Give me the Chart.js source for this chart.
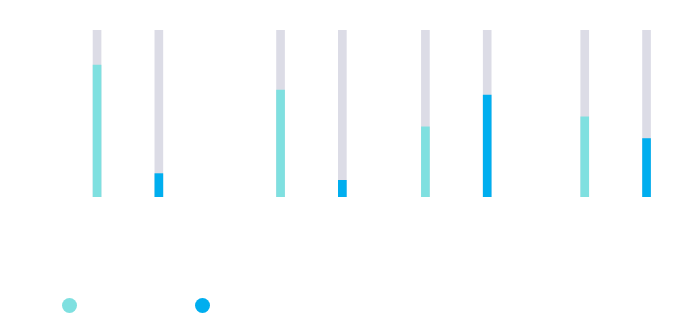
<!DOCTYPE html>
<html lang="en">
<head>
  <meta charset="UTF-8">
  <title>Bar chart</title>
  <script src="https://cdn.jsdelivr.net/npm/chart.js"></script>
  <style>
    html, body {
      margin: 0;
      padding: 0;
      background: #fff;
    }
    #wrap {
      position: relative;
      width: 690px;
      height: 320px;
    }
    #legend {
      position: absolute;
      top: 298px;
      left: 0;
      height: 16px;
    }
    .dot {
      position: absolute;
      top: 0;
      width: 15px;
      height: 15px;
      border-radius: 50%;
    }
  </style>
</head>
<body>
<div id="wrap">
  <canvas id="barChart"></canvas>
  <div id="legend"></div>
</div>

<script>
  // group positions (day offsets) and values in percent
  const groupDays = [0, 38, 68, 101];
  const seriesNames = ['Series 1', 'Series 2'];
  const series1 = [79, 64, 42, 48];
  const series2 = [14, 10, 61, 35];
  const trackMax = 100;

  const colors = ['#7fe0e0', '#00aeef'];
  const trackColor = '#dcdce6';
  const barOffset = 6.4;

  const pts = (vals, shift) => vals.map((v, i) => ({ x: groupDays[i] + shift, y: v }));
  const track = shift => groupDays.map(d => ({ x: d + shift, y: trackMax }));

  const ctx = document.getElementById('barChart').getContext('2d');
  new Chart(ctx, {
    type: 'bar',
    data: {
      datasets: [
        { label: seriesNames[0], data: pts(series1, -barOffset), backgroundColor: colors[0], order: 1 },
        { label: seriesNames[1], data: pts(series2, barOffset), backgroundColor: colors[1], order: 1 },
        { label: 'track', data: track(-barOffset), backgroundColor: trackColor, order: 2 },
        { label: 'track', data: track(barOffset), backgroundColor: trackColor, order: 2 }
      ]
    },
    options: {
      responsive: true,
      maintainAspectRatio: false,
      animation: false,
      grouped: false,
      barThickness: 8,
      layout: { padding: { top: 30, bottom: 123, left: 0, right: 0 } },
      plugins: {
        legend: { display: false },
        tooltip: { enabled: false }
      },
      scales: {
        x: { type: 'linear', min: -26.5, max: 116.4, offset: false, display: false },
        y: { min: 0, max: trackMax, display: false }
      }
    }
  });

  // simple legend dots
  const legend = document.getElementById('legend');
  [62, 195].forEach((left, i) => {
    const d = document.createElement('span');
    d.className = 'dot';
    d.style.left = left + 'px';
    d.style.background = colors[i];
    d.title = seriesNames[i];
    legend.appendChild(d);
  });
</script>
</body>
</html>
